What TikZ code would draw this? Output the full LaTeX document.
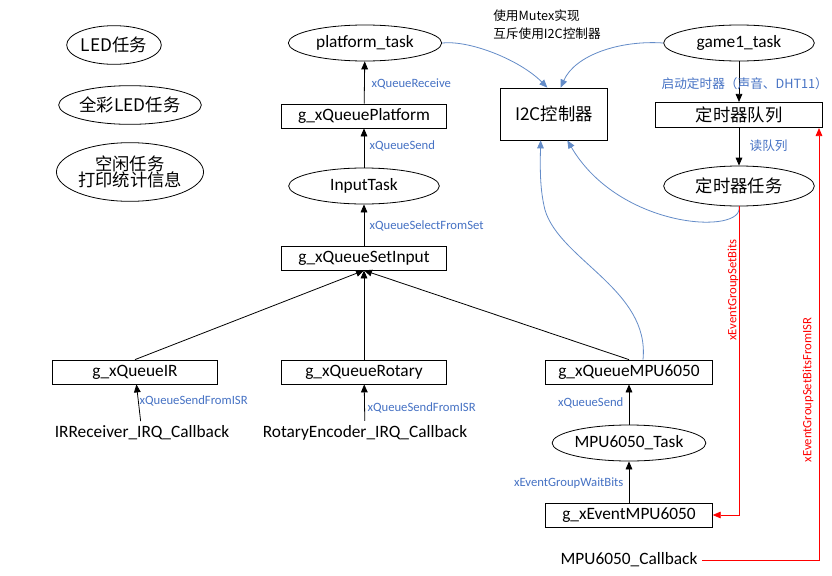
\documentclass[tikz,border=0pt]{standalone}
\usepackage{fontspec}
\setmainfont{Carlito}
\newfontfamily\cjk{Noto Sans CJK SC}
\usetikzlibrary{shapes.geometric,arrows.meta}
\definecolor{lblue}{RGB}{70,114,196}
\definecolor{bl}{RGB}{100,140,200}
\tikzset{
 ell/.style={draw,ellipse,semithick,inner sep=0pt,font=\fontsize{13}{15}\selectfont},
 box/.style={draw,semithick,minimum height=18pt,inner sep=0pt,font=\fontsize{13}{15}\selectfont},
 lab/.style={text=lblue,font=\fontsize{9.5}{11}\selectfont,inner sep=1pt},
 rlab/.style={text=red,font=\fontsize{9.5}{11}\selectfont,inner sep=1pt,rotate=90},
 arr/.style={-{Triangle[length=6pt,width=5pt]},semithick},
 barr/.style={-{Triangle[length=6pt,width=5pt]},bl,semithick},
 rarr/.style={-{Triangle[length=6pt,width=5pt]},red,semithick},
}
\begin{document}
\begin{tikzpicture}[x=0.75pt,y=-0.75pt]
\useasboundingbox (0,0) rectangle (832,575);
\fill[white] (0,0) rectangle (832,575);
\node[ell,minimum width=71pt,minimum height=29pt] (led) at (114,45) {\cjk LED任务};
\node[ell,minimum width=83pt,minimum height=29pt] (cled) at (130,105) {\cjk 全彩LED任务};
\node[ell,minimum width=87pt,minimum height=44pt,align=center] (idle) at (130,172) {\cjk 空闲任务\\[-3pt]\cjk 打印统计信息};
\node[ell,minimum width=115pt,minimum height=27pt] (plat) at (365,43) {platform\_task};
\node[box,minimum width=124pt] (qplat) at (364,116) {g\_xQueuePlatform};
\node[ell,minimum width=113pt,minimum height=27pt] (input) at (364,186) {InputTask};
\node[box,minimum width=124pt] (qset) at (364,258) {g\_xQueueSetInput};
\node[box,minimum width=124pt] (qir) at (135,372) {g\_xQueueIR};
\node[box,minimum width=124pt] (qrot) at (364,372) {g\_xQueueRotary};
\node[box,minimum width=125pt] (qmpu) at (629,372) {g\_xQueueMPU6050};
\node[font=\fontsize{13}{15}\selectfont] (irq) at (142,433) {IRReceiver\_IRQ\_Callback};
\node[font=\fontsize{13}{15}\selectfont] (rotcb) at (365,433) {RotaryEncoder\_IRQ\_Callback};
\node[ell,minimum width=113pt,minimum height=27pt] (mtask) at (629,443) {MPU6050\_Task};
\node[box,minimum width=125pt] (evt) at (629,515) {g\_xEventMPU6050};
\node[font=\fontsize{13}{15}\selectfont] (mcb) at (629,560) {MPU6050\_Callback};
\node[box,minimum width=80pt,minimum height=39pt] (i2c) at (554,114) {\cjk I2C控制器};
\node[ell,minimum width=113pt,minimum height=27pt] (game) at (739,43) {game1\_task};
\node[box,minimum width=125pt,minimum height=19pt] (tq) at (739,115) {\cjk 定时器队列};
\node[ell,minimum width=113pt,minimum height=30pt] (tt) at (739,186) {\cjk 定时器任务};
\node[anchor=north west,align=left,font=\cjk\fontsize{9.5}{13}\selectfont,inner sep=0pt] (mutex) at (493,10) {使用Mutex实现\\互斥使用I2C控制器};
\draw[arr] (qplat) -- (plat);
\draw[arr] (input) -- (qplat);
\draw[arr] (qset) -- (input);
\draw[arr] (qir.north) -- (qset.south);
\draw[arr] (qrot) -- (qset);
\draw[arr] (qmpu.north) -- (qset.south);
\draw[arr] (irq) -- (qir);
\draw[arr] (rotcb) -- (qrot);
\draw[arr] (mtask) -- (qmpu);
\draw[arr] (evt) -- (mtask);
\draw[arr] (game) -- (tq);
\draw[arr] (tq) -- (tt);
\node[lab,anchor=west] at (370,84) {xQueueReceive};
\node[lab,anchor=west] at (368,146) {xQueueSend};
\node[lab,anchor=west] at (368,226) {xQueueSelectFromSet};
\node[lab,anchor=west] at (138,401) {xQueueSendFromISR};
\node[lab,anchor=west] at (366,408) {xQueueSendFromISR};
\node[lab,anchor=east] at (625,403) {xQueueSend};
\node[lab,anchor=east] at (625,483) {xEventGroupWaitBits};
\node[lab,anchor=west,font=\cjk\fontsize{9.5}{11}\selectfont] at (660,84) {启动定时器（声音、DHT11）};
\node[lab,anchor=west,font=\cjk\fontsize{9.5}{11}\selectfont] at (748,146) {读队列};
\draw[barr] (plat.east) .. controls (470,40) and (520,60) .. ([xshift=-5pt]i2c.north);
\draw[barr] (game.west) .. controls (620,40) and (575,55) .. ([xshift=5pt]i2c.north);
\draw[barr] (qmpu.north) ++(14,0) coordinate (qm) .. controls (650,290) and (560,260) .. (545,210) .. controls (540,190) and (540,170) .. ([xshift=-10pt]i2c.south);
\draw[barr] (tt.south) .. controls (745,235) and (620,230) .. ([xshift=10pt]i2c.south);
\draw[rarr] (tt.south) |- (evt.east);
\draw[rarr] (mcb.east) -| ([xshift=60pt]tq.south);
\node[rlab] at (733,290) {xEventGroupSetBits};
\node[rlab] at (808,390) {xEventGroupSetBitsFromISR};
\end{tikzpicture}
\end{document}
